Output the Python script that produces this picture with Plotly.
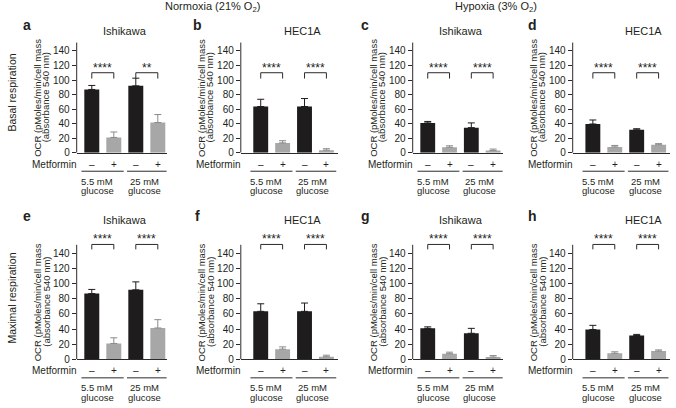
import plotly.graph_objects as go

# ---------------- data ----------------
METFORMIN = ["–", "+", "–", "+"]
GLUCOSE_GROUPS = ["5.5 mM", "25 mM"]
GLUCOSE_WORD = "glucose"
CELL_LINES = ["Ishikawa", "HEC1A", "Ishikawa", "HEC1A"]
LETTERS_TOP = ["a", "b", "c", "d"]
LETTERS_BOTTOM = ["e", "f", "g", "h"]
CONDITIONS = ["Normoxia (21% O<sub>2</sub>)", "Hypoxia (3% O<sub>2</sub>)"]
ROW_LABELS = ["Basal respiration", "Maximal respiration"]
YTICKS = [0, 20, 40, 60, 80, 100, 120, 140]

# Basal respiration (OCR) : order = 5.5mM -, 5.5mM +, 25mM -, 25mM +
basal_ish_norm = [87, 21, 92, 41.5]
basal_ish_norm_err = [5.5, 7.5, 10.5, 11]
basal_hec_norm = [63.5, 13.5, 63.5, 3.5]
basal_hec_norm_err = [10, 3, 11, 2]
basal_ish_hyp = [41, 7.5, 34.5, 3]
basal_ish_hyp_err = [2, 2, 6.5, 2]
basal_hec_hyp = [39.5, 8, 31.5, 11]
basal_hec_hyp_err = [5.5, 2, 1.5, 1.5]

# Maximal respiration (OCR)
max_ish_norm = [87, 21, 92, 41.5]
max_ish_norm_err = [5.5, 7.5, 10.5, 11]
max_hec_norm = [63.5, 13.5, 63.5, 3.5]
max_hec_norm_err = [10, 3, 11, 2]
max_ish_hyp = [41, 7.5, 34.5, 3]
max_ish_hyp_err = [2, 2, 6.5, 2]
max_hec_hyp = [39.5, 8, 31.5, 11]
max_hec_hyp_err = [5.5, 2, 1.5, 1.5]

SIG_TOP = [["****", "**"], ["****", "****"], ["****", "****"], ["****", "****"]]
SIG_BOTTOM = [["****", "****"], ["****", "****"], ["****", "****"], ["****", "****"]]

VALUES = [basal_ish_norm, basal_hec_norm, basal_ish_hyp, basal_hec_hyp,
          max_ish_norm, max_hec_norm, max_ish_hyp, max_hec_hyp]
ERRORS = [basal_ish_norm_err, basal_hec_norm_err, basal_ish_hyp_err, basal_hec_hyp_err,
          max_ish_norm_err, max_hec_norm_err, max_ish_hyp_err, max_hec_hyp_err]
SIGS = SIG_TOP + SIG_BOTTOM

# ---------------- style / layout ----------------
W, H = 676, 408
FONT = "Liberation Sans, Arial, Helvetica, sans-serif"
TXT = "#231f20"
AX = "#2b2b2b"
BLACK = "#1e1c1d"
GRAY = "#a7a7a7"
GRAY_ERR = "#8a8a8a"

POS = [0, 1, 2, 3]
YMAX = 168
YLINE_TOP = 151.5

# x domains in px for the 4 columns, and x ranges (category units)
COL_PX = [(76.7, 166.6), (240.8, 337.8), (412.7, 502.7), (572.7, 670.0)]
COL_RANGE = [(-0.686, 3.40), (-0.91, 3.52), (-0.69, 3.44), (-0.92, 3.52)]
ROW_DOM = [(0.6201, 0.924), (0.1061, 0.422)]
BRACKET = [(110, 102), (152, 145.5)]   # (line level, leg end) per row
STAR_SHIFT = [-4.5, -3.5]

fig = go.Figure()
layout = dict(
    width=W, height=H, margin=dict(l=0, r=0, t=0, b=0),
    plot_bgcolor="white", paper_bgcolor="white", showlegend=False,
    barmode="overlay", font=dict(family=FONT, size=10, color=TXT),
)
shapes = []
annotations = []


def px_x(x):
    return x / W


def px_y(y):
    return 1 - y / H


for i in range(8):
    row, col = divmod(i, 4)
    n = i + 1
    xn = "x" if n == 1 else f"x{n}"
    yn = "y" if n == 1 else f"y{n}"
    xa = "xaxis" if n == 1 else f"xaxis{n}"
    ya = "yaxis" if n == 1 else f"yaxis{n}"
    vals, errs = VALUES[i], ERRORS[i]

    layout[xa] = dict(domain=[px_x(COL_PX[col][0]), px_x(COL_PX[col][1])],
                      range=list(COL_RANGE[col]), anchor=yn,
                      showline=True, linecolor=AX, linewidth=1, ticks="",
                      showticklabels=False, showgrid=False, zeroline=False)
    layout[ya] = dict(domain=list(ROW_DOM[row]), range=[0, YMAX], anchor=xn,
                      showline=False, ticks="outside", ticklen=4, tickwidth=1,
                      tickcolor=AX, tickvals=YTICKS, tickfont=dict(size=10, color=TXT),
                      showgrid=False, zeroline=False)

    # bars: control (black) and metformin (gray)
    for idxs, col_fill, col_err in (([0, 2], BLACK, BLACK), ([1, 3], GRAY, GRAY_ERR)):
        fig.add_trace(go.Bar(
            x=[POS[k] for k in idxs], y=[vals[k] for k in idxs], width=0.68,
            marker=dict(color=col_fill, line=dict(width=0)),
            error_y=dict(type="data", symmetric=False,
                         array=[errs[k] for k in idxs], arrayminus=[0, 0],
                         color=col_err, thickness=1, width=3.5),
            xaxis=xn, yaxis=yn, hoverinfo="skip"))

    # significance brackets
    lvl, leg = BRACKET[row]
    for g in range(2):
        a, b = POS[2 * g], POS[2 * g + 1]
        fig.add_trace(go.Scatter(x=[a, a, b, b], y=[leg, lvl, lvl, leg], mode="lines",
                                 line=dict(color=AX, width=1), xaxis=xn, yaxis=yn,
                                 hoverinfo="skip", cliponaxis=False))
        annotations.append(dict(text=SIGS[i][g], xref=xn, yref=yn, x=(a + b) / 2, y=lvl,
                                yanchor="bottom", xanchor="center", yshift=STAR_SHIFT[row],
                                showarrow=False, font=dict(size=12, color=TXT)))

    # y axis line (stops above 140 like the reference)
    shapes.append(dict(type="line", xref=f"{xn} domain", yref=yn, x0=0, x1=0,
                       y0=0, y1=YLINE_TOP, line=dict(color=AX, width=1)))

    # y-axis title (two lines)
    for txt, sh in (("OCR (pMoles/min/cell mass", -39.5), ("(absorbance 540 nm)", -31)):
        annotations.append(dict(text=txt, xref=f"{xn} domain", yref=yn, x=0,
                                y=YLINE_TOP / 2, xanchor="center", yanchor="middle",
                                xshift=sh, textangle=-90, showarrow=False,
                                font=dict(size=9.5, color=TXT)))

    # Metformin row
    annotations.append(dict(text="Metformin", xref=f"{xn} domain", yref=f"{yn} domain",
                            x=0, y=0, xanchor="right", yanchor="middle", xshift=1,
                            yshift=-11.5, showarrow=False, font=dict(size=10, color=TXT)))
    for k in range(4):
        annotations.append(dict(text=METFORMIN[k], xref=xn, yref=f"{yn} domain",
                                x=POS[k], y=0, xanchor="center", yanchor="middle",
                                yshift=-11.5, showarrow=False, font=dict(size=10, color=TXT)))

    # glucose groups
    for g, (x0, x1, xl) in enumerate(((-0.47, 1.45, 0.25), (1.6, 3.45, 2.38))):
        shapes.append(dict(type="line", xref=xn, yref=f"{yn} domain", ysizemode="pixel",
                           yanchor=0, x0=x0, x1=x1, y0=-18.5, y1=-18.5,
                           line=dict(color=AX, width=1)))
        annotations.append(dict(text=GLUCOSE_GROUPS[g], xref=xn, yref=f"{yn} domain",
                                x=xl, y=0, xanchor="center", yanchor="middle",
                                yshift=-28.5, showarrow=False, borderpad=0,
                                font=dict(size=9.5, color=TXT)))
        annotations.append(dict(text=GLUCOSE_WORD, xref=xn, yref=f"{yn} domain",
                                x=xl, y=0, xanchor="center", yanchor="middle",
                                yshift=-38, showarrow=False, borderpad=0,
                                font=dict(size=9.5, color=TXT)))

# condition headers
for txt, xc in zip(CONDITIONS, (212, 496)):
    annotations.append(dict(text=txt, xref="paper", yref="paper", x=px_x(xc), y=px_y(7.5),
                            xanchor="center", yanchor="middle", showarrow=False,
                            font=dict(size=11, color=TXT)))

# panel letters and cell-line titles
LETTER_X = [27, 197, 365, 532]
TITLE_X = [125, 302, 461, 643]
for row, (letters, ly, ty) in enumerate(((LETTERS_TOP, 25.5, 31.5), (LETTERS_BOTTOM, 219.5, 223))):
    for c in range(4):
        annotations.append(dict(text=f"<b>{letters[c]}</b>", xref="paper", yref="paper",
                                x=px_x(LETTER_X[c]), y=px_y(ly), xanchor="center",
                                yanchor="middle", showarrow=False,
                                font=dict(size=14, color=TXT)))
        annotations.append(dict(text=CELL_LINES[c], xref="paper", yref="paper",
                                x=px_x(TITLE_X[c]), y=px_y(ty), xanchor="center",
                                yanchor="middle", showarrow=False,
                                font=dict(size=11, color=TXT)))

# row labels
for txt, yc in zip(ROW_LABELS, (94, 303)):
    annotations.append(dict(text=txt, xref="paper", yref="paper", x=px_x(12), y=px_y(yc),
                            xanchor="center", yanchor="middle", textangle=-90,
                            showarrow=False, font=dict(size=10.5, color=TXT)))

layout["shapes"] = shapes
layout["annotations"] = annotations
fig.update_layout(**layout)
fig.write_html("out.html", config={"displayModeBar": False},
               post_script="document.body.style.margin='0';document.body.style.overflow='hidden';")
